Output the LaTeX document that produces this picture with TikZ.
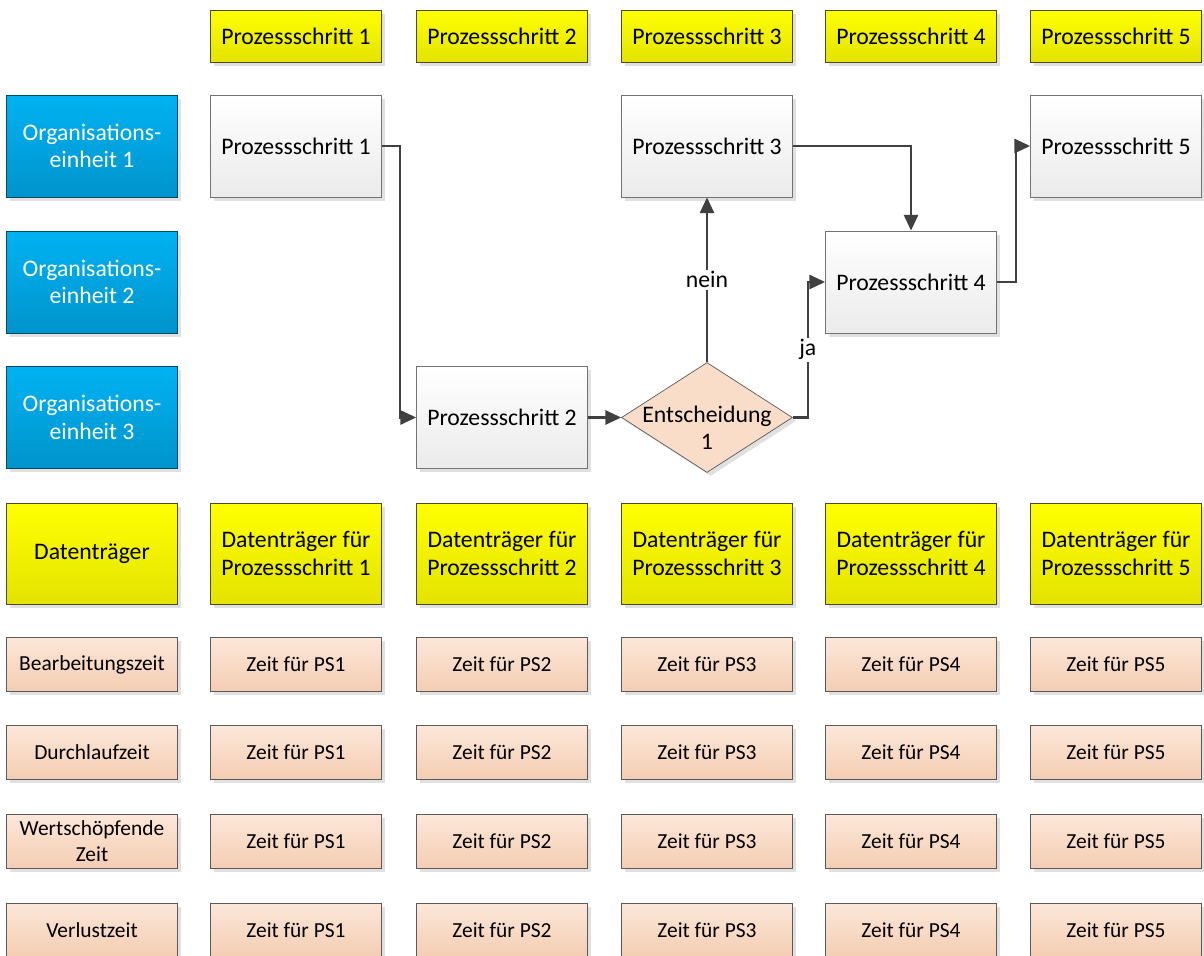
\documentclass[tikz,border=0pt]{standalone}
\usepackage{fontspec}
\setmainfont{Carlito}
\usepackage{tikz}
\usetikzlibrary{shapes.geometric,shadows,arrows.meta}

\definecolor{linie}{HTML}{404040}
\definecolor{rand}{HTML}{5A5A5A}
\definecolor{gelbO}{HTML}{FFFF00}
\definecolor{gelbU}{HTML}{E3E300}
\definecolor{blauO}{HTML}{00B2F2}
\definecolor{blauU}{HTML}{0094CC}
\definecolor{lachsO}{HTML}{FCE7D9}
\definecolor{lachsU}{HTML}{F4CDB2}

\tikzset{
    box/.style={draw=rand, minimum width=3.42cm, inner sep=2pt, align=center,
        drop shadow={shadow xshift=2pt, shadow yshift=-2pt, fill=black!30, opacity=0.4}},
    gross/.style={font=\fontsize{13.5}{15.5}\selectfont},
    klein/.style={font=\fontsize{12.2}{14.7}\selectfont},
    kopf/.style={box, gross, top color=gelbO, bottom color=gelbU, draw=black!60!olive},
    org/.style={box, gross, text=white, top color=blauO, bottom color=blauU, draw=black!50!blauU, minimum height=2.04cm},
    proc/.style={box, gross, top color=white, bottom color=black!8, draw=black!55, minimum height=2.04cm},
    entsch/.style={diamond, draw=rand, fill=lachsO!60!lachsU, inner sep=0pt, minimum width=3.42cm, minimum height=2.2cm,
        drop shadow={shadow xshift=2pt, shadow yshift=-2pt, fill=black!30, opacity=0.4}},
    zeit/.style={box, klein, top color=lachsO, bottom color=lachsU, minimum height=1.08cm},
    pfeil/.style={draw=linie, line width=1.5pt, -{Triangle[length=9pt,width=8pt]}},
    lbl/.style={fill=white, inner sep=1pt, gross}
}

\begin{document}
\begin{tikzpicture}[x=0.02cm, y=-0.02cm]
    \useasboundingbox (0,0) rectangle (1204,956);

    % linke Spalte
    \node [org] (org1) at (92,146) {Organisations-\\einheit 1};
    \node [org] (org2) at (92,282) {Organisations-\\einheit 2};
    \node [org] (org3) at (92,417.5) {Organisations-\\einheit 3};
    \node [kopf, minimum height=2.02cm] (datentr) at (92,553.5) {Datentr\"ager};
    \node [zeit] (bearb) at (92,664.5) {Bearbeitungszeit};
    \node [zeit] (durchl) at (92,752.5) {Durchlaufzeit};
    \node [zeit] (wertsch) at (92,841.5) {Wertsch\"opfende\\Zeit};
    \node [zeit] (verlust) at (92,930) {Verlustzeit};

    % Spalten je Prozessschritt
    \foreach \n/\x in {1/296, 2/502, 3/707, 4/911, 5/1116} {
        \node [kopf, minimum height=1.04cm] (kopf\n) at (\x,36) {Prozessschritt \n};
        \node [kopf, minimum height=2.02cm] (daten\n) at (\x,553.5) {Datentr\"ager f\"ur\\Prozessschritt \n};
        \node [zeit] (bz\n) at (\x,664.5) {Zeit f\"ur PS\n};
        \node [zeit] (dz\n) at (\x,752.5) {Zeit f\"ur PS\n};
        \node [zeit] (wz\n) at (\x,841.5) {Zeit f\"ur PS\n};
        \node [zeit] (vz\n) at (\x,930) {Zeit f\"ur PS\n};
    }

    % Ablauf
    \node [proc] (ps1) at (296,146) {Prozessschritt 1};
    \node [proc] (ps2) at (502,417.5) {Prozessschritt 2};
    \node [proc] (ps3) at (707,146) {Prozessschritt 3};
    \node [proc] (ps4) at (911,282) {Prozessschritt 4};
    \node [proc] (ps5) at (1116,146) {Prozessschritt 5};
    \node [entsch, label={[gross, align=center, yshift=-0.2cm]center:Entscheidung\\1}] (ent) at (707,417.5) {};

    \draw [pfeil] (ps1.east) -- ++(18,0) |- (ps2.west);
    \draw [pfeil] (ps2.east) -- (ent.west);
    \draw [pfeil] (ent.north) -- node [lbl] {nein} (ps3.south);
    \draw [pfeil] (ent.east) -- ++(15,0) |- node [lbl, pos=0.25] {ja} (ps4.west);
    \draw [pfeil] (ps3.east) -| (ps4.north);
    \draw [pfeil] (ps4.east) -- ++(19,0) |- (ps5.west);
\end{tikzpicture}
\end{document}
